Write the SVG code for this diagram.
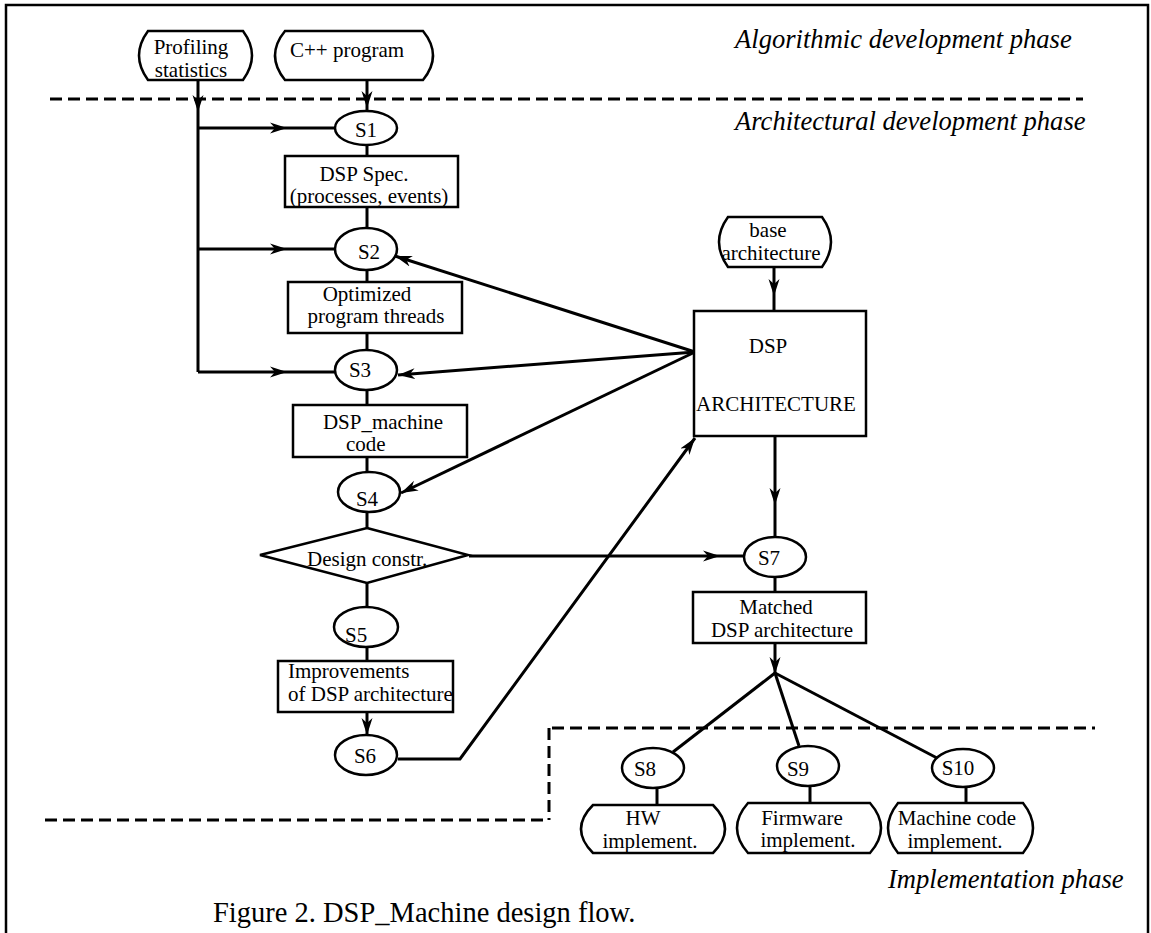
<svg xmlns="http://www.w3.org/2000/svg" width="1151" height="933" viewBox="0 0 1151 933">
<style>
.n{fill:#fff;stroke:#000;stroke-width:2.5}
.c{fill:none;stroke:#000;stroke-width:3}
.d{fill:none;stroke:#000;stroke-width:3;stroke-dasharray:12 6}
text{font-family:"Liberation Serif","Times New Roman",serif;font-size:21px;fill:#000}
.ph{font-size:26.6px;font-style:italic}
.cap{font-size:28.5px}
.m{text-anchor:middle}
</style>
<defs>
<marker id="ah" markerUnits="userSpaceOnUse" viewBox="0 0 17 12" markerWidth="17" markerHeight="12" refX="17" refY="6" orient="auto">
<path d="M0,0.5 L17,6 L0,11.5 L5,6 Z" fill="#000"/>
</marker>
</defs>
<rect width="1151" height="933" fill="#fff"/>
<g id="frame">
<path d="M6,950 V5 H1148 V950" fill="none" stroke="#000" stroke-width="2.5"/>
</g>
<g id="phases">
<path class="d" d="M50,99 H1083"/>
<path class="d" d="M552,728 H1095"/>
<path class="d" d="M549,728 V820"/>
<path class="d" d="M45,820 H549"/>
<text class="ph" x="735" y="48">Algorithmic development phase</text>
<text class="ph" x="735" y="130">Architectural development phase</text>
<text class="ph" x="888" y="888">Implementation phase</text>
</g>
<g id="connectors">
<path class="c" d="M198,80 L198,112 L198,372" marker-mid="url(#ah)"/>
<path class="c" d="M367,80 L367,108 L367,111" marker-mid="url(#ah)"/>
<path class="c" d="M198,128 L287,128 L335,128" marker-mid="url(#ah)"/>
<path class="c" d="M198,249 L287,249 L335,249" marker-mid="url(#ah)"/>
<path class="c" d="M198,372 L287,372 L335,372" marker-mid="url(#ah)"/>
<path class="c" d="M367,145 V156"/>
<path class="c" d="M367,207 V228"/>
<path class="c" d="M367,270 V282"/>
<path class="c" d="M367,333 V350"/>
<path class="c" d="M367,390 V405"/>
<path class="c" d="M367,457 V472"/>
<path class="c" d="M367,512 V528"/>
<path class="c" d="M367,583 V607"/>
<path class="c" d="M367,647 V661"/>
<path class="c" d="M367,712 V735" marker-end="url(#ah)"/>
<path class="c" d="M398,759 L460,759 L695,438" marker-end="url(#ah)"/>
<path class="c" d="M695,352 L395,256" marker-end="url(#ah)"/>
<path class="c" d="M695,352 L398,375" marker-end="url(#ah)"/>
<path class="c" d="M695,352 L401,493" marker-end="url(#ah)"/>
<path class="c" d="M774,267 L774,296 L774,311" marker-mid="url(#ah)"/>
<path class="c" d="M775,436 L775,505 L775,537" marker-mid="url(#ah)"/>
<path class="c" d="M469,556 L720,556 L744,556" marker-mid="url(#ah)"/>
<path class="c" d="M775,577 V592"/>
<path class="c" d="M775,643 V674" marker-end="url(#ah)"/>
<path class="c" d="M775,673 L673,752"/>
<path class="c" d="M775,673 L799,746"/>
<path class="c" d="M775,673 L937,758"/>
<path class="c" d="M657,788 V805"/>
<path class="c" d="M810,786 V803"/>
<path class="c" d="M966,787 V803"/>
</g>
<g id="profiling">
<path class="n" d="M148,31 H243 Q261,55.5 243,80 H148 Q130,55.5 148,31 Z"/>
<text class="m" x="191" y="54">Profiling</text>
<text class="m" x="191" y="77">statistics</text>
</g>
<g id="cpp">
<path class="n" d="M285,31 H423 Q443,55.5 423,80 H285 Q265,55.5 285,31 Z"/>
<text x="290" y="57">C++ program</text>
</g>
<g id="s1">
<ellipse class="n" cx="366" cy="128" rx="31" ry="17"/>
<text class="m" x="366" y="137">S1</text>
</g>
<g id="dspspec">
<rect class="n" x="285" y="156" width="173" height="51"/>
<text class="m" x="364" y="181">DSP Spec.</text>
<text class="m" x="369" y="203">(processes, events)</text>
</g>
<g id="s2">
<ellipse class="n" cx="366" cy="249" rx="31" ry="21"/>
<text class="m" x="369" y="259">S2</text>
</g>
<g id="optimized">
<rect class="n" x="288" y="282" width="174" height="51"/>
<text class="m" x="367" y="301">Optimized</text>
<text class="m" x="376" y="323">program threads</text>
</g>
<g id="s3">
<ellipse class="n" cx="366" cy="370" rx="31" ry="20"/>
<text class="m" x="360" y="377">S3</text>
</g>
<g id="machinecode">
<rect class="n" x="293" y="405" width="174" height="52"/>
<text class="m" x="383" y="429">DSP_machine</text>
<text x="346" y="451">code</text>
</g>
<g id="s4">
<ellipse class="n" cx="369" cy="492" rx="31" ry="20"/>
<text class="m" x="367" y="506">S4</text>
</g>
<g id="designconstr">
<path class="n" d="M367,528 L468,555 L367,583 L260,555 Z"/>
<text x="307" y="566">Design constr.</text>
</g>
<g id="s5">
<ellipse class="n" cx="366" cy="627" rx="32" ry="20"/>
<text x="345" y="642">S5</text>
</g>
<g id="improvements">
<rect class="n" x="278" y="661" width="175" height="51"/>
<text x="288" y="678">Improvements</text>
<text x="288" y="701">of DSP architecture</text>
</g>
<g id="s6">
<ellipse class="n" cx="366" cy="755" rx="31" ry="20"/>
<text class="m" x="365" y="763">S6</text>
</g>
<g id="basearch">
<path class="n" d="M728,217 H822 Q840,242 822,267 H728 Q710,242 728,217 Z"/>
<text class="m" x="768" y="237">base</text>
<text class="m" x="771" y="260">architecture</text>
</g>
<g id="dsparch">
<rect class="n" x="694" y="311" width="172" height="125"/>
<text class="m" x="768" y="353">DSP</text>
<text class="m" x="776" y="411">ARCHITECTURE</text>
</g>
<g id="s7">
<ellipse class="n" cx="775" cy="557" rx="31" ry="20"/>
<text class="m" x="769" y="565">S7</text>
</g>
<g id="matched">
<rect class="n" x="693" y="592" width="173" height="51"/>
<text class="m" x="776" y="614">Matched</text>
<text class="m" x="782" y="637">DSP architecture</text>
</g>
<g id="s8">
<ellipse class="n" cx="653" cy="768" rx="31" ry="20"/>
<text class="m" x="645" y="776">S8</text>
</g>
<g id="s9">
<ellipse class="n" cx="808" cy="766" rx="31" ry="20"/>
<text class="m" x="798" y="776">S9</text>
</g>
<g id="s10">
<ellipse class="n" cx="963" cy="768" rx="31" ry="19"/>
<text class="m" x="958" y="775">S10</text>
</g>
<g id="hw">
<path class="n" d="M593,805 H713 Q737,829 713,853 H593 Q569,829 593,805 Z"/>
<text class="m" x="643" y="825">HW</text>
<text class="m" x="650" y="848">implement.</text>
</g>
<g id="firmware">
<path class="n" d="M748,803 H870 Q892,828 870,853 H748 Q726,828 748,803 Z"/>
<text class="m" x="802" y="825">Firmware</text>
<text class="m" x="808" y="847">implement.</text>
</g>
<g id="machineimpl">
<path class="n" d="M898,803 H1023 Q1043,828 1023,853 H898 Q878,828 898,803 Z"/>
<text class="m" x="957" y="825">Machine code</text>
<text class="m" x="955" y="848">implement.</text>
</g>
<g id="caption">
<text class="cap" x="213" y="922">Figure 2. DSP_Machine design flow.</text>
</g>
</svg>
